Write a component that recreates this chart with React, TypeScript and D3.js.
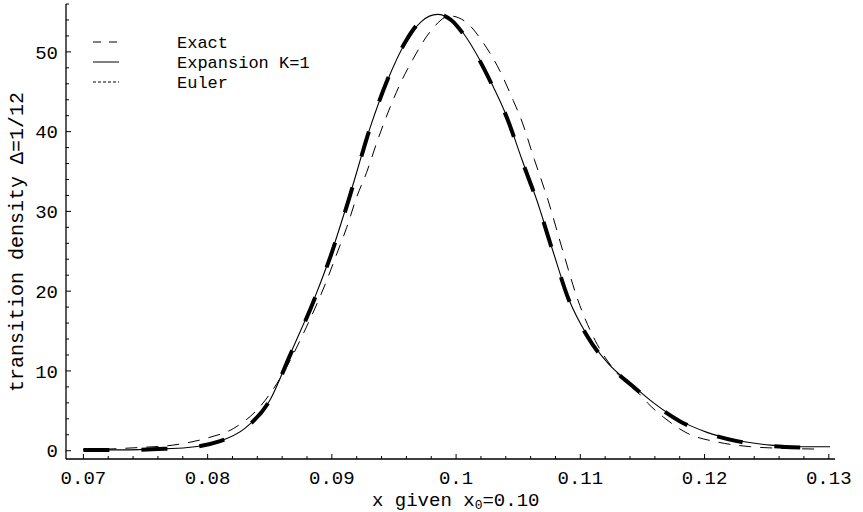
import React from "react";
import * as d3 from "d3";

// values
const expansionX = [0.07, 0.073, 0.076, 0.0784, 0.0808, 0.083, 0.085, 0.0867, 0.0887, 0.0899, 0.0915, 0.0931, 0.0945, 0.0959, 0.0972, 0.0985, 0.0996, 0.1006, 0.1019, 0.103, 0.1041, 0.1053, 0.1065, 0.1078, 0.1091, 0.1105, 0.1122, 0.1142, 0.1159, 0.118, 0.1202, 0.1226, 0.1253, 0.1277, 0.1301];
const expansionY = [0.1, 0.1, 0.2, 0.4, 1.1, 2.8, 6.3, 12.3, 19.5, 24.5, 32.3, 40.6, 46.5, 51.1, 53.8, 54.7, 54.0, 52.3, 49.0, 45.6, 41.8, 36.5, 31.4, 25.0, 18.9, 14.6, 11.0, 8.2, 6.0, 3.8, 2.3, 1.3, 0.7, 0.5, 0.5];

const exactX = [0.07, 0.0719, 0.0745, 0.0772, 0.08, 0.0821, 0.0842, 0.086, 0.0878, 0.0896, 0.0904, 0.0912, 0.092, 0.0928, 0.0937, 0.0947, 0.0955, 0.0965, 0.0979, 0.0995, 0.1009, 0.1022, 0.1035, 0.1046, 0.1052, 0.1063, 0.1074, 0.1086, 0.1098, 0.1112, 0.1128, 0.1147, 0.1154, 0.1167, 0.1186, 0.121, 0.1237, 0.1263, 0.1295];
const exactY = [0.1, 0.2, 0.4, 0.7, 1.6, 2.8, 5.5, 9.5, 15.0, 21.4, 24.7, 28.0, 31.8, 34.9, 39.0, 43.1, 46.0, 49.0, 52.5, 54.5, 53.6, 51.1, 47.7, 43.9, 41.7, 36.5, 31.4, 25.0, 18.9, 13.8, 10.0, 7.2, 6.0, 4.2, 2.2, 1.1, 0.5, 0.3, 0.2];

const eulerX = [0.07, 0.073, 0.076, 0.0784, 0.0808, 0.083, 0.085, 0.0867, 0.0887, 0.0899, 0.0915, 0.0931, 0.0945, 0.0959, 0.0972, 0.0985, 0.0996, 0.1006, 0.1019, 0.103, 0.1041, 0.1053, 0.1065, 0.1078, 0.1091, 0.1105, 0.1122, 0.1142, 0.1159, 0.118, 0.1202, 0.1226, 0.1253, 0.1277];
const eulerY = [0.1, 0.1, 0.2, 0.4, 1.1, 2.8, 6.3, 12.2, 19.4, 24.4, 32.2, 40.6, 46.6, 51.2, 53.9, 54.7, 54.0, 52.2, 48.9, 45.5, 41.7, 36.4, 31.3, 24.9, 18.8, 14.5, 10.9, 8.1, 5.9, 3.7, 2.2, 1.2, 0.6, 0.4];

const xTicks = [0.07, 0.08, 0.09, 0.1, 0.11, 0.12, 0.13];
const xTickLabels = ["0.07", "0.08", "0.09", "0.1", "0.11", "0.12", "0.13"];
const yTicks = [0, 10, 20, 30, 40, 50];

const legendNames = ["Exact", "Expansion K=1", "Euler"];

const FONT = "'Liberation Mono', 'DejaVu Sans Mono', monospace";

function zip(xs: number[], ys: number[]) {
  return xs.map((x, i) => [x, ys[i]] as [number, number]);
}

export default function App() {
  const W = 863, H = 512;
  const xScale = d3.scaleLinear().domain([0.0686, 0.1305]).range([66, 835]);
  const yScale = d3.scaleLinear().domain([-1.04, 56]).range([459, 4]);

  const line = d3.line<[number, number]>()
    .x((d) => xScale(d[0]))
    .y((d) => yScale(d[1]))
    .curve(d3.curveMonotoneX);

  const xMinor = d3.range(0.07, 0.1305, 0.002).filter((v) => Math.abs(Math.round(v * 100) - v * 100) > 1e-6);
  const yMinor = d3.range(0, 56.1, 2).filter((v) => v % 10 !== 0);

  const x0 = xScale.range()[0];
  const y0 = yScale.range()[0];

  return (
    <svg width={W} height={H} style={{ position: "absolute", left: 0, top: 0, background: "#fff" }}>
      {/* axes */}
      <line x1={x0} y1={y0} x2={835} y2={y0} stroke="#000" strokeWidth={1.3} />
      <line x1={x0} y1={4} x2={x0} y2={y0} stroke="#000" strokeWidth={1.3} />

      {xTicks.map((t, i) => (
        <g key={"xt" + i}>
          <line x1={xScale(t)} x2={xScale(t)} y1={y0} y2={y0 - 5} stroke="#000" />
          <text x={xScale(t)} y={484} textAnchor="middle" fontFamily={FONT} fontSize={19}>{xTickLabels[i]}</text>
        </g>
      ))}
      {xMinor.map((t, i) => (
        <line key={"xm" + i} x1={xScale(t)} x2={xScale(t)} y1={y0} y2={y0 - 3} stroke="#000" />
      ))}

      {yTicks.map((t, i) => (
        <g key={"yt" + i}>
          <line x1={x0} x2={x0 + 5} y1={yScale(t)} y2={yScale(t)} stroke="#000" />
          <text x={58} y={yScale(t)} dy="0.35em" textAnchor="end" fontFamily={FONT} fontSize={19}>{t}</text>
        </g>
      ))}
      {yMinor.map((t, i) => (
        <line key={"ym" + i} x1={x0} x2={x0 + 3} y1={yScale(t)} y2={yScale(t)} stroke="#000" />
      ))}

      {/* axis titles */}
      <text x={372} y={506} fontFamily={FONT} fontSize={19}>
        x given x<tspan fontSize={13} dy={3}>0</tspan><tspan dy={-3}>=0.10</tspan>
      </text>
      <text transform="translate(23,242) rotate(-90)" textAnchor="middle" fontFamily={FONT} fontSize={20}>
        transition density Δ=1/12
      </text>

      {/* curves */}
      <path d={line(zip(exactX, exactY)) || ""} fill="none" stroke="#000" strokeWidth={1} strokeDasharray="12,9" />
      <path d={line(zip(expansionX, expansionY)) || ""} fill="none" stroke="#000" strokeWidth={1.1} />
      <path d={line(zip(eulerX, eulerY)) || ""} fill="none" stroke="#000" strokeWidth={4} strokeDasharray="26,32" />

      {/* legend */}
      {legendNames.map((name, i) => {
        const ly = 42 + i * 20;
        const dash = i === 0 ? "8,8" : i === 2 ? "3,2" : undefined;
        return (
          <g key={"lg" + i}>
            <line x1={93} x2={119} y1={ly} y2={ly} stroke="#000" strokeWidth={1} strokeDasharray={dash} />
            <text x={177} y={ly} dy="0.35em" fontFamily={FONT} fontSize={17}>{name}</text>
          </g>
        );
      })}
    </svg>
  );
}
